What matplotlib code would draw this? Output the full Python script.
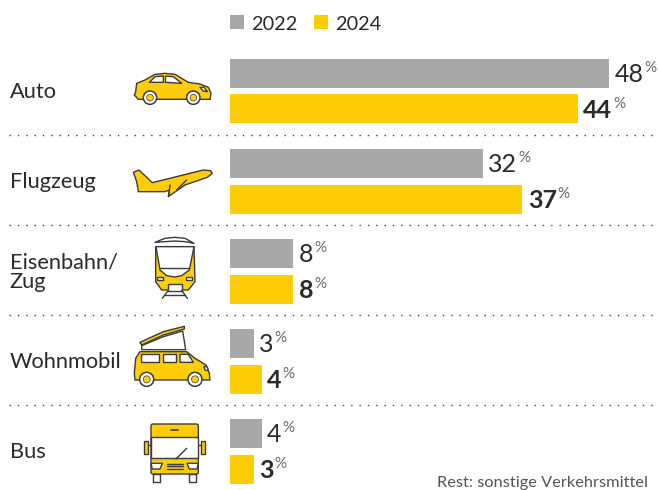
import numpy as np
import matplotlib
matplotlib.use("Agg")
import matplotlib.pyplot as plt
from matplotlib.patches import Polygon, Circle, Rectangle, FancyBboxPatch

plt.rcParams["font.family"] = ["Lato", "DejaVu Sans"]

categories = ["Auto", "Flugzeug", "Eisenbahn/\nZug", "Wohnmobil", "Bus"]
values_2022 = [48, 32, 8, 3, 4]
values_2024 = [44, 37, 8, 4, 3]
years = ["2022", "2024"]
note = "Rest: sonstige Verkehrsmittel"

GREY = "#a7a8aa"
YELLOW = "#ffcd07"
DARK = "#2b2a29"
LINE = "#3a3a3a"

W, H = 659, 490
fig = plt.figure(figsize=(W / 100, H / 100), dpi=100)

# bars use percent on x, pixels on y
ppx = 7.9
ax = fig.add_axes([0, 0, 1, 1])
ax.set_xlim(-230 / ppx, (W - 230) / ppx)
ax.set_ylim(H, 0)
ax.axis("off")

# icons + labels in pixel coords
ic = fig.add_axes([0, 0, 1, 1], facecolor="none")
ic.set_xlim(0, W)
ic.set_ylim(H, 0)
ic.axis("off")

centers = 91 + 90 * np.arange(len(categories))
ax.barh(centers - 17.5, values_2022, height=29, color=GREY)
ax.barh(centers + 18, values_2024, height=29, color=YELLOW)

fig.canvas.draw()
rend = fig.canvas.get_renderer()


def value_label(v, y, bold):
    t = ax.annotate(
        str(v), (v, y), xytext=(4, 0.5), textcoords="offset points",
        va="center_baseline", ha="left", fontsize=18, color=DARK,
        fontweight="bold" if bold else "normal",
    )
    bb = t.get_window_extent(rend)
    ic.text(bb.x1 + 1, H - bb.y1 - 2, "%", fontsize=11, color="#6a6a6a",
            fontweight="normal", va="top", ha="left")


for c, a, b in zip(centers, values_2022, values_2024):
    value_label(a, c - 17.5, False)
    value_label(b, c + 18, True)

for c, cat in zip(centers, categories):
    ic.text(9.5, c + 1, cat, fontsize=15.7, color=DARK, va="center", ha="left",
            linespacing=1.0)

for i in range(1, len(categories)):
    ic.plot([9, 655], [45 + 90 * i] * 2, color="#444444", lw=1,
            linestyle=(0, (1, 5)))

# legend
for x, col, yr in zip([230, 314], [GREY, YELLOW], years):
    ic.add_patch(Rectangle((x, 15), 14, 14, color=col, lw=0))
    ic.text(x + 21.5, 24, yr, fontsize=14.3, color=DARK, va="center", ha="left")

ic.text(648, 490, note, fontsize=11.8, color="#555555", va="bottom", ha="right")


def pts(lst, ox, oy):
    return [(x / 3 + ox, y / 3 + oy) for x, y in lst]


def poly(lst, ox, oy, fc=YELLOW, lw=1.0, closed=True, z=3):
    ic.add_patch(Polygon(pts(lst, ox, oy), closed=closed, fc=fc, ec=LINE, lw=lw,
                         joinstyle="round", zorder=z))


def wheel(x, y, r, ox, oy):
    x0, y0 = x / 3 + ox, y / 3 + oy
    ic.add_patch(Circle((x0, y0), r / 3, fc="white", ec=LINE, lw=1.1, zorder=4))
    ic.add_patch(Circle((x0, y0), r / 6, fc=YELLOW, ec=LINE, lw=0.5, zorder=5))


def stroke(lst, ox, oy, lw=1.0):
    p = pts(lst, ox, oy)
    ic.plot([q[0] for q in p], [q[1] for q in p], color=LINE, lw=lw, zorder=6,
            solid_capstyle="round")


# car
o = (120, 50)
poly([(47, 125), (50, 100), (75, 90), (105, 73), (135, 70), (165, 73), (205, 97),
      (240, 102), (265, 112), (273, 130), (270, 148), (55, 148), (43, 135)], *o)
wheel(90, 143, 20, *o)
wheel(220, 143, 20, *o)
poly([(88, 97), (105, 80), (130, 78), (130, 97)], *o, fc="white")
poly([(136, 97), (137, 78), (160, 80), (185, 100)], *o, fc="white")
poly([(240, 112), (252, 112), (262, 125), (250, 123)], *o, fc="white")

# plane
o = (120, 50)
poly([(40, 367), (57, 360), (97, 398), (250, 360), (272, 362), (277, 370), (262, 382),
      (195, 405), (145, 440), (148, 420), (135, 425), (55, 425), (50, 395)], *o)
stroke([(150, 405), (147, 432)], *o)
stroke([(200, 390), (170, 420)], *o)

# train
o = (120, 225)
poly([(105, 52), (135, 40), (165, 37), (195, 40), (222, 55), (195, 50), (165, 48),
      (135, 50)], *o, fc="white")
poly([(107, 65), (222, 65), (225, 170), (205, 195), (125, 195), (107, 170)], *o)
poly([(108, 65), (222, 65), (208, 135), (185, 152), (165, 156), (140, 152), (120, 135)],
     *o, fc="white")
stroke([(120, 128), (208, 128)], *o)
poly([(112, 156), (128, 156), (128, 165), (112, 165)], *o, fc="white")
poly([(199, 156), (216, 156), (216, 165), (199, 165)], *o, fc="white")
poly([(143, 178), (185, 178), (185, 198), (143, 198)], *o, fc="white")
stroke([(127, 220), (145, 196)], *o)
stroke([(202, 220), (185, 196)], *o)
stroke([(135, 209), (195, 209)], *o)

# camper
o = (120, 225)
poly([(65, 374), (65, 362), (130, 335), (188, 318), (197, 374)], *o, fc="white")
poly([(60, 352), (130, 320), (193, 304), (193, 312), (130, 330), (65, 360)], *o)
poly([(45, 465), (43, 445), (47, 400), (60, 380), (200, 380), (225, 400), (258, 420),
      (268, 445), (270, 465)], *o)
wheel(80, 463, 21, *o)
wheel(225, 463, 21, *o)
poly([(62, 388), (116, 388), (116, 412), (62, 412)], *o, fc="white")
poly([(128, 388), (168, 388), (168, 412), (128, 412)], *o, fc="white")
poly([(180, 388), (205, 388), (220, 412), (180, 412)], *o, fc="white")
poly([(252, 424), (262, 426), (265, 437), (255, 435)], *o, fc="white")

# bus
o = (120, 225)
poly([(98, 748), (120, 748), (120, 772), (98, 772)], *o, fc="white")
poly([(206, 748), (228, 748), (228, 772), (206, 772)], *o, fc="white")
ic.add_patch(FancyBboxPatch((93 / 3 + o[0], 597 / 3 + o[1]), 142 / 3, 150 / 3,
                            boxstyle="round,pad=0,rounding_size=2", fc=YELLOW,
                            ec=LINE, lw=1.0, zorder=3))
poly([(93, 635), (235, 635), (235, 700), (93, 700)], *o, fc="white")
stroke([(168, 702), (200, 670)], *o)
stroke([(153, 614), (173, 614)], *o, lw=1.2)
stroke([(86, 660), (93, 660)], *o)
stroke([(235, 660), (242, 660)], *o)
poly([(72, 648), (85, 648), (85, 688), (72, 688)], *o)
poly([(243, 648), (256, 648), (256, 688), (243, 688)], *o)
poly([(93, 715), (127, 715), (120, 732), (97, 732)], *o, fc="white")
poly([(235, 715), (201, 715), (208, 732), (231, 732)], *o, fc="white")
for gy in [717, 724, 731]:
    stroke([(140, gy), (190, gy)], *o)

fig.savefig("out.png", dpi=100)
